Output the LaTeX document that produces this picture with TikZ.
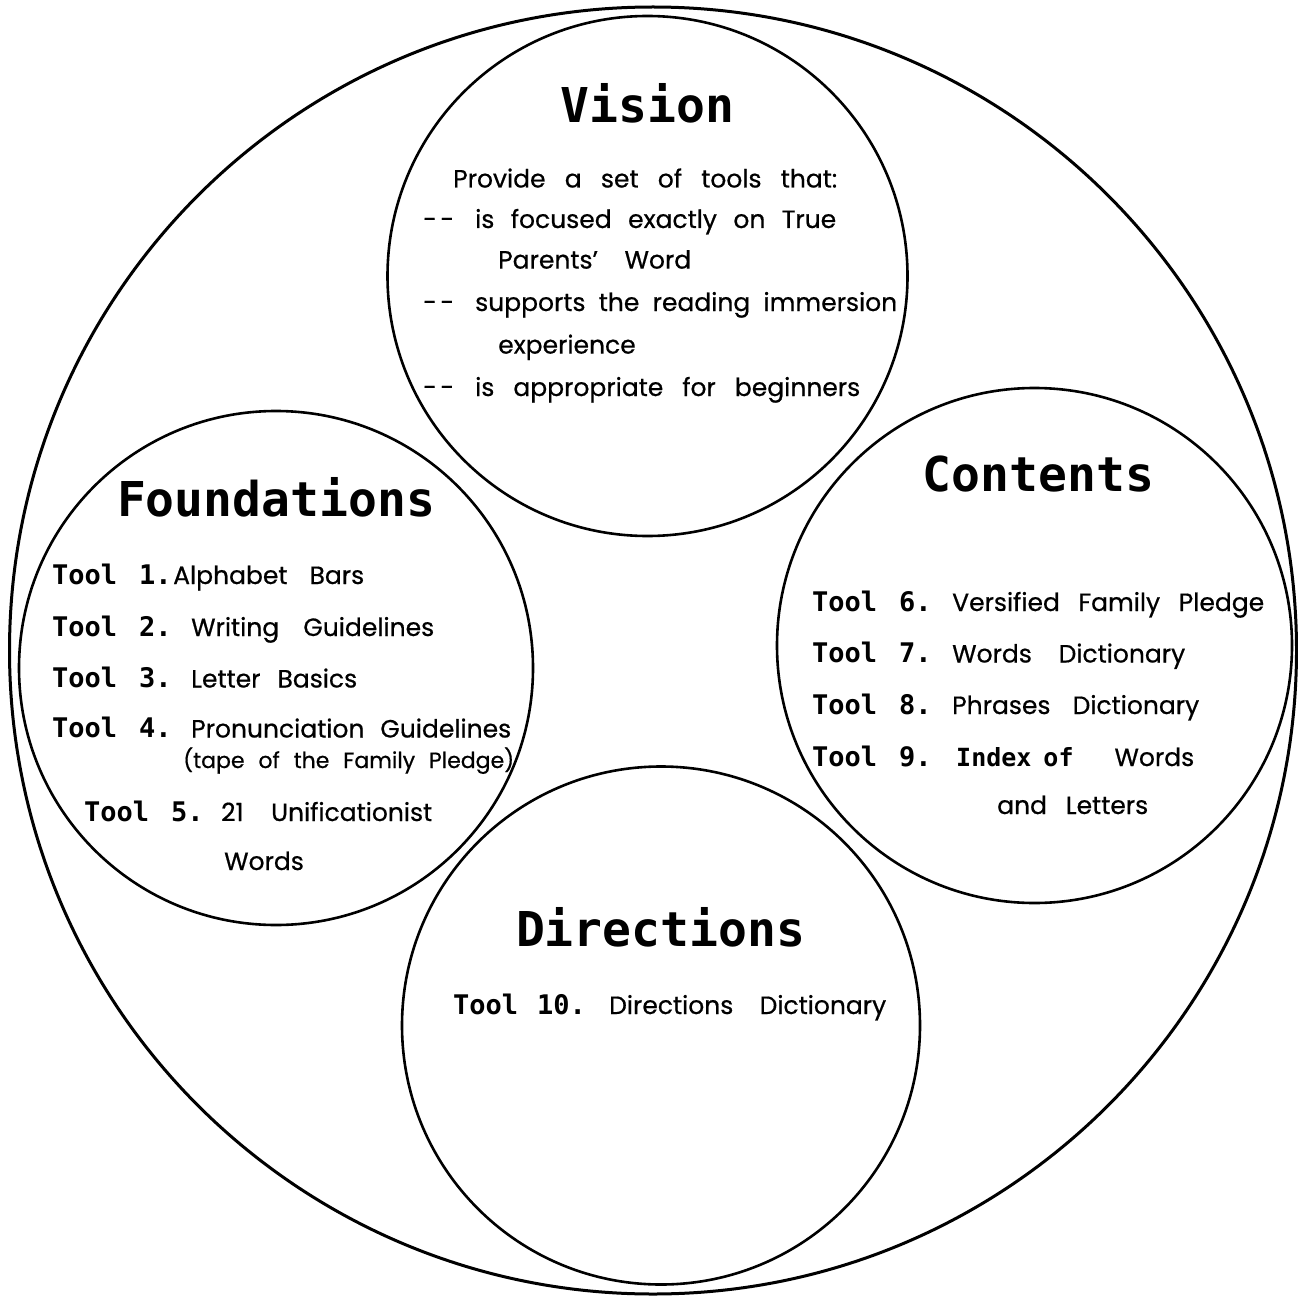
\documentclass[tikz,border=0pt]{standalone}
\usepackage{fontspec}
\setmainfont{Poppins}[FakeBold=0.6]
\newfontfamily\monof{DejaVu Sans Mono}
\newcommand\fitw[2]{\makebox[#1][s]{#2}}
\newcommand\toollab[2]{\makebox[#1][l]{Tool}#2}
\newcommand\dashes{\makebox[31pt]{-\hfill-}}
\tikzset{
  ring/.style={circle, draw, line width=2.6pt, inner sep=0pt},
  bigring/.style={ring, line width=3pt},
  ttl/.style={font=\monof\bfseries\fontsize{48}{50}\selectfont, anchor=base, inner sep=0pt},
  tl/.style={font=\monof\bfseries\fontsize{27}{30}\selectfont, anchor=base west, inner sep=0pt},
  txt/.style={font=\fontsize{25}{28}\selectfont, anchor=base west, inner sep=0pt},
  small/.style={font=\fontsize{22}{24}\selectfont},
}
\begin{document}
\begin{tikzpicture}[x=1pt,y=-1pt]
\useasboundingbox (0,0) rectangle (1298,1297);
% circles
\node[bigring, minimum size=1287pt] (outer) at (653,650.5) {};
\node[ring, minimum size=520pt] (vision) at (647.5,276) {};
\node[ring, minimum size=514pt] (found) at (276,668) {};
\node[ring, minimum size=515pt] (cont) at (1034.5,645.5) {};
\node[ring, minimum size=518pt] (dir) at (661,1025.5) {};
% titles
\node[ttl] (vt) at (647.5,123) {Vision};
\node[ttl] (ft) at (276,516) {Foundations};
\node[ttl] (ct) at (1038.5,491) {Contents};
\node[ttl] (dt) at (660.5,946) {Directions};
% vision text
\node[txt] (v1) at (453,187.5) {\fitw{384pt}{Provide a set of tools that:}};
\node[txt] (v2d) at (423,228) {\dashes};
\node[txt] (v2) at (475,228) {\fitw{361pt}{is focused exactly on True}};
\node[txt] (v3) at (498,268.6) {\fitw{193pt}{Parents' Word}};
\node[txt] (v4d) at (423,311) {\dashes};
\node[txt] (v4) at (475,311) {\fitw{422pt}{supports the reading immersion}};
\node[txt] (v5) at (498,353.6) {experience};
\node[txt] (v6d) at (423,396) {\dashes};
\node[txt] (v6) at (475,396) {\fitw{385pt}{is appropriate for beginners}};
% foundations
\node[tl] (f1t) at (52,584) {\toollab{87pt}{1.}};
\node[txt] (f1) at (173,584) {\fitw{191pt}{Alphabet Bars}};
\node[tl] (f2t) at (52,636) {\toollab{87pt}{2.}};
\node[txt] (f2) at (191,636) {\fitw{243pt}{Writing Guidelines}};
\node[tl] (f3t) at (52,687.5) {\toollab{87pt}{3.}};
\node[txt] (f3) at (191,687.5) {\fitw{166pt}{Letter Basics}};
\node[tl] (f4t) at (52,737.5) {\toollab{87pt}{4.}};
\node[txt] (f4) at (191,737.5) {\fitw{320pt}{Pronunciation Guidelines}};
\node[txt, small] (f4b) at (183,768) {\fitw{331pt}{(tape of the Family Pledge)}};
\node[tl] (f5t) at (84,821) {\toollab{87pt}{5.}};
\node[txt] (f5) at (221,821) {\fitw{211pt}{21 Unificationist}};
\node[txt] (f5b) at (224,870) {Words};
% contents
\node[tl] (c6t) at (812,611) {\toollab{87pt}{6.}};
\node[txt] (c6) at (952,611) {\fitw{312pt}{Versified Family Pledge}};
\node[tl] (c7t) at (812,662.5) {\toollab{87pt}{7.}};
\node[txt] (c7) at (952,662.5) {\fitw{233pt}{Words Dictionary}};
\node[tl] (c8t) at (812,714) {\toollab{87pt}{8.}};
\node[txt] (c8) at (952,714) {\fitw{247pt}{Phrases Dictionary}};
\node[tl] (c9t) at (812,766) {\toollab{87pt}{9.}};
\node[txt] (c9) at (956,766) {\fitw{238pt}{{\monof\bfseries\fontsize{25}{28}\selectfont Index\hspace{12pt}of} Words}};
\node[txt] (c9b) at (997,814) {\fitw{151pt}{and Letters}};
% directions
\node[tl] (d10t) at (453,1014) {\toollab{84pt}{10.}};
\node[txt] (d10) at (609,1014) {\fitw{277pt}{Directions Dictionary}};
\end{tikzpicture}
\end{document}
